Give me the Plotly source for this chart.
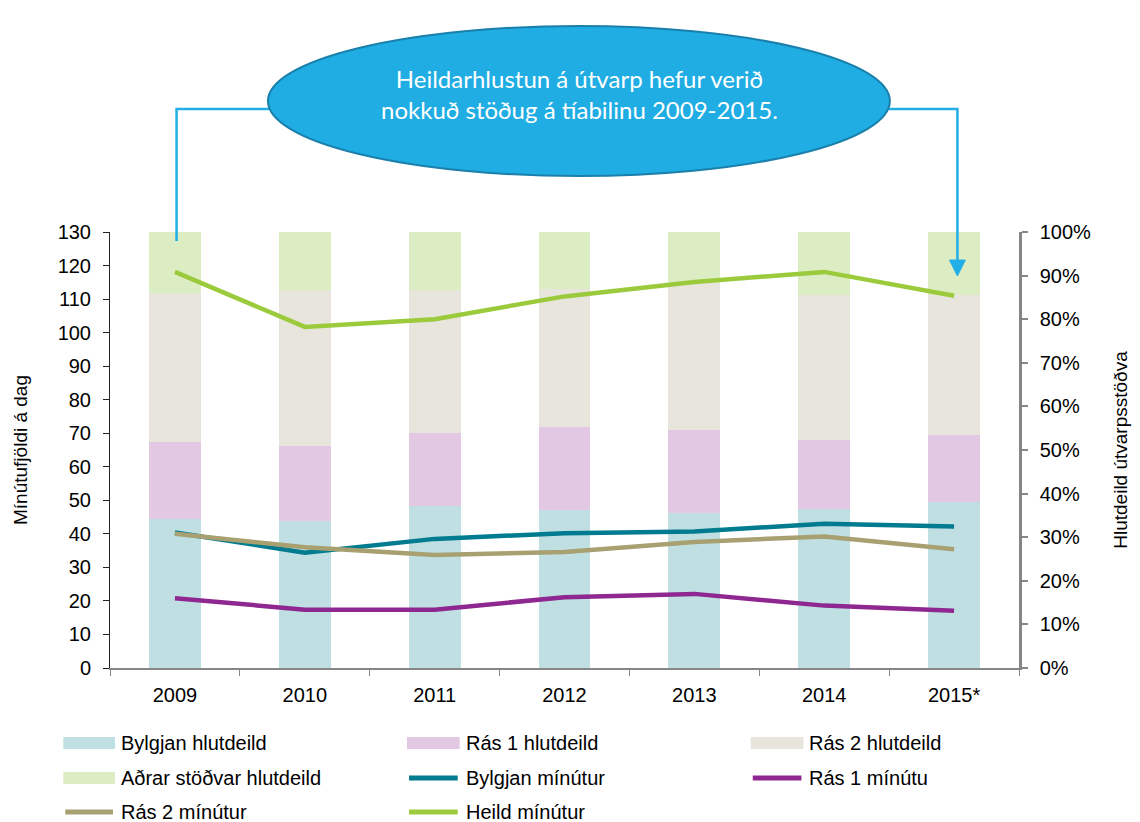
import plotly.graph_objects as go

# ---------------- data ----------------
years = ["2009", "2010", "2011", "2012", "2013", "2014", "2015*"]

share_bylgjan = [34.2, 33.7, 37.1, 36.2, 35.5, 36.4, 38.0]
share_ras1 = [17.7, 17.2, 16.9, 19.1, 19.1, 15.9, 15.4]
share_ras2 = [34.0, 35.7, 32.6, 31.6, 33.6, 33.2, 32.2]
share_other = [14.1, 13.4, 13.4, 13.1, 11.8, 14.5, 14.4]

min_bylgjan = [40.4, 34.4, 38.5, 40.2, 40.7, 43.0, 42.2]
min_ras1 = [20.8, 17.4, 17.4, 21.1, 22.1, 18.6, 17.1]
min_ras2 = [40.0, 36.0, 33.7, 34.6, 37.6, 39.2, 35.4]
min_heild = [118.1, 101.7, 104.0, 110.8, 115.1, 118.1, 111.0]

bar_names = ["Bylgjan hlutdeild", "Rás 1 hlutdeild", "Rás 2 hlutdeild", "Aðrar stöðvar hlutdeild"]
line_names = ["Bylgjan mínútur", "Rás 1 mínútu", "Rás 2 mínútur", "Heild mínútur"]

left_ticks = list(range(0, 131, 10))
right_ticks = list(range(0, 101, 10))

callout = "Heildarhlustun á útvarp hefur verið<br>nokkuð stöðug á tíabilinu 2009-2015."

# ---------------- styles ----------------
bar_colors = ["#BFDFE3", "#E2C8E3", "#E8E6DC", "#DDEDC3"]
line_colors = ["#007B8F", "#8E278F", "#A8A070", "#9BCB3C"]
FONT = "Liberation Sans, Arial, sans-serif"
OFF = 8                      # page body margin
W, H = 1140 - OFF, 822 - OFF
# plot area in reference-image pixels
RL, RR, RT, RB = 106, 1021, 232, 668
PL, PR, PT, PB = RL - OFF, RR - OFF, RT - OFF, RB - OFF


def px(x):
    """reference pixel x -> paper x"""
    return (x - RL) / (RR - RL)


def py(y):
    """reference pixel y -> paper y"""
    return (RB - y) / (RB - RT)


fig = go.Figure()

for name, vals, col in zip(bar_names, [share_bylgjan, share_ras1, share_ras2, share_other], bar_colors):
    fig.add_trace(go.Bar(x=years, y=vals, name=name, marker=dict(color=col, line=dict(width=0)),
                         yaxis="y", showlegend=False))

for name, vals, col in zip(line_names, [min_bylgjan, min_ras1, min_ras2, min_heild], line_colors):
    fig.add_trace(go.Scatter(x=years, y=vals, name=name, mode="lines",
                             line=dict(color=col, width=4.5), yaxis="y2", showlegend=False))

shapes = []
annotations = []

# connectors + callout ellipse
CONN = "#22AEE6"
yline = 109
shapes.append(dict(type="path", xref="paper", yref="paper",
                   path=f"M {px(173)},{py(241)} L {px(173)},{py(yline)} L {px(270)},{py(yline)}",
                   line=dict(color=CONN, width=2.5)))
shapes.append(dict(type="path", xref="paper", yref="paper",
                   path=f"M {px(885)},{py(yline)} L {px(959)},{py(yline)} L {px(959)},{py(263)}",
                   line=dict(color=CONN, width=2.5)))
shapes.append(dict(type="path", xref="paper", yref="paper",
                   path=f"M {px(951)},{py(260)} L {px(967)},{py(260)} L {px(959)},{py(276)} Z",
                   fillcolor=CONN, line=dict(color=CONN, width=1)))
shapes.append(dict(type="circle", xref="paper", yref="paper",
                   x0=px(265), x1=px(891), y0=py(176), y1=py(26),
                   fillcolor="#1FADE3", line=dict(color="#1A80AB", width=2)))
annotations.append(dict(xref="paper", yref="paper", x=px(579), y=py(94), text=callout,
                        showarrow=False, align="center", xanchor="center", yanchor="middle",
                        font=dict(family="Lato, Carlito, sans-serif", size=24, color="white")))

# custom legend
leg_names = bar_names + line_names
leg_colors = bar_colors + line_colors
leg_kind = ["bar"] * 4 + ["line"] * 4
cols_sym = [(59, 111), (405, 458), (751, 804)]
rows_y = [743, 778, 812]
for i, (nm, col, kind) in enumerate(zip(leg_names, leg_colors, leg_kind)):
    r, c = divmod(i, 3)
    x0, x1 = cols_sym[c]
    yc = rows_y[r]
    if kind == "bar":
        shapes.append(dict(type="rect", xref="paper", yref="paper",
                           x0=px(x0), x1=px(x1), y0=py(yc + 6), y1=py(yc - 6),
                           fillcolor=col, line=dict(width=0)))
    else:
        shapes.append(dict(type="line", xref="paper", yref="paper",
                           x0=px(x0 + 2), x1=px(x1 - 2), y0=py(yc), y1=py(yc),
                           line=dict(color=col, width=5)))
    annotations.append(dict(xref="paper", yref="paper", x=px(x1 + 4), y=py(yc), text=nm,
                            showarrow=False, xanchor="left", yanchor="middle",
                            font=dict(family=FONT, size=20, color="black")))

fig.update_layout(
    width=W, height=H,
    margin=dict(l=PL, r=W - PR, t=PT, b=H - PB, pad=0),
    paper_bgcolor="white", plot_bgcolor="white",
    barmode="stack", bargap=0.6,
    font=dict(family=FONT, size=20, color="black"),
    showlegend=False,
    xaxis=dict(type="category", showline=True, linecolor="#868686", linewidth=1.5,
               ticks="outside", ticklen=6, tickcolor="#868686", tickson="boundaries",
               showgrid=False, ticklabelstandoff=8, tickfont=dict(size=20)),
    yaxis=dict(side="right", range=[0, 100], tickvals=right_ticks,
               ticktext=[f"{v}%" for v in right_ticks], showgrid=False, zeroline=False,
               showline=True, linecolor="#868686", linewidth=2.5, ticks="outside", ticklen=6,
               tickcolor="#868686", tickwidth=1.5, ticklabelstandoff=8,
               title=dict(text="Hlutdeild útvarpsstöðva", font=dict(size=19), standoff=24)),
    yaxis2=dict(side="left", overlaying="y", range=[0, 130], tickvals=left_ticks,
                showgrid=False, zeroline=False, showline=True, linecolor="#222222", linewidth=1,
                ticks="outside", ticklen=6, tickcolor="#222222", ticklabelstandoff=8,
                title=dict(text="Mínútufjöldi á dag", font=dict(size=19), standoff=24)),
    shapes=shapes, annotations=annotations,
)

fig.write_html("out.html")
